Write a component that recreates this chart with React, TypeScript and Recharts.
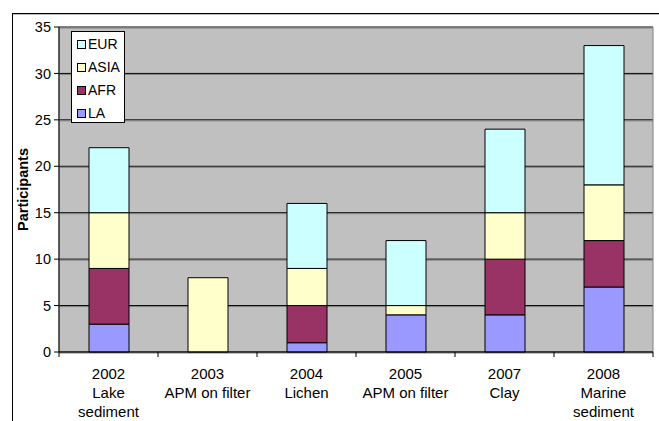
import React from 'react';
import { BarChart, Bar, XAxis, YAxis, CartesianGrid, ReferenceArea } from 'recharts';

// Participants per region, for each intercomparison round
const rounds = ['2002', '2003', '2004', '2005', '2007', '2008'];
const tickLines = [
  ['2002', 'Lake', 'sediment'],
  ['2003', 'APM on filter'],
  ['2004', 'Lichen'],
  ['2005', 'APM on filter'],
  ['2007', 'Clay'],
  ['2008', 'Marine', 'sediment'],
];
const la = [3, 0, 1, 4, 4, 7];
const afr = [6, 0, 4, 0, 6, 5];
const asia = [6, 8, 4, 1, 5, 6];
const eur = [7, 0, 7, 7, 9, 15];
const yTicks = [0, 5, 10, 15, 20, 25, 30, 35];

// stacking order, bottom to top
const series = [
  { key: 'LA', color: '#9999FF' },
  { key: 'AFR', color: '#993366' },
  { key: 'ASIA', color: '#FFFFCC' },
  { key: 'EUR', color: '#CCFFFF' },
];

const data = rounds.map((r, i) => ({
  round: r,
  LA: la[i],
  AFR: afr[i],
  ASIA: asia[i],
  EUR: eur[i],
}));

const FONT = "Arial, 'Liberation Sans', sans-serif";

const XTick = (props: any) => {
  const { x, y, payload, index } = props;
  const half = payload && payload.offset ? payload.offset : 49.5;
  const lines = tickLines[index] || [];
  const last = index === rounds.length - 1;
  return (
    <g>
      <line x1={x - half} y1={y} x2={x - half} y2={y + 5} stroke="#000" />
      {last && <line x1={x + half} y1={y} x2={x + half} y2={y + 5} stroke="#000" />}
      {lines.map((t: string, i: number) => (
        <text key={i} x={x} y={y + 27 + i * 19} textAnchor="middle" fontSize={15} fontFamily={FONT} fill="#000">
          {t}
        </text>
      ))}
    </g>
  );
};

const GridLine = (props: any) => {
  const { x1, x2, y1 } = props;
  return (
    <g>
      <line x1={x1} x2={x2} y1={y1} y2={y1} stroke="#000" strokeWidth={1} />
      <line x1={x1} x2={x2} y1={y1 + 1} y2={y1 + 1} stroke="#808080" strokeWidth={1} />
    </g>
  );
};

const LegendBox = () => (
  <div
    style={{
      position: 'absolute',
      left: 71,
      top: 31,
      width: 54,
      height: 92,
      background: '#fff',
      border: '1px solid #000',
      boxSizing: 'border-box',
      padding: '1px 0 0 5px',
      fontFamily: FONT,
      fontSize: 14,
      lineHeight: '15px',
    }}
  >
    {[...series].reverse().map((s) => (
      <div key={s.key} style={{ display: 'flex', alignItems: 'center', height: 23 }}>
        <span
          style={{
            display: 'inline-block',
            width: 7,
            height: 7,
            background: s.color,
            border: '1px solid #000',
            marginRight: 2,
          }}
        />
        <span>{s.key}</span>
      </div>
    ))}
  </div>
);

const YLabel = (props: any) => {
  const vb = props.viewBox || { x: 0, y: 27, width: 59, height: 325 };
  const cx = 28;
  const cy = vb.y + vb.height / 2;
  return (
    <text
      x={cx}
      y={cy}
      transform={`rotate(-90, ${cx}, ${cy})`}
      textAnchor="middle"
      fontSize={14.5}
      fontWeight="bold"
      fontFamily={FONT}
      fill="#000"
    >
      Participants
    </text>
  );
};

export default function App() {
  return (
    <div style={{ position: 'absolute', left: 0, top: 0, width: 659, height: 421, overflow: 'hidden', background: '#fff' }}>
      {/* outer chart frame */}
      <div
        style={{
          position: 'absolute',
          left: 12,
          top: 13,
          width: 700,
          height: 500,
          borderLeft: '1px solid #000',
          borderTop: '1px solid #000',
          boxShadow: 'inset 0 1px 0 #bbb',
        }}
      />
      <div style={{ position: 'absolute', left: 0, top: 0 }}>
        <BarChart
          width={659}
          height={421}
          data={data}
          margin={{ top: 27, right: 6, bottom: 0, left: 0 }}
          barSize={40}
        >
          <CartesianGrid vertical={false} fill="#C0C0C0" horizontal={(p: any) => <GridLine key={p.key} {...p} />} />
          <ReferenceArea y1={0} y2={35} fill="none" stroke="#808080" strokeWidth={1} />
          <XAxis
            dataKey="round"
            tick={<XTick />}
            tickLine={false}
            tickSize={0}
            tickMargin={0}
            height={69}
            axisLine={{ stroke: '#000' }}
            interval={0}
          />
          <YAxis
            domain={[0, 35]}
            ticks={yTicks}
            width={59}
            tickSize={5}
            tickMargin={3}
            tickLine={{ stroke: '#000' }}
            axisLine={{ stroke: '#000' }}
            tick={{ fontSize: 14.5, fontFamily: FONT, fill: '#000' }}
            label={{ content: <YLabel /> }}
            interval={0}
          />
          {series.map((s) => (
            <Bar
              key={s.key}
              dataKey={s.key}
              stackId="a"
              fill={s.color}
              stroke="#000"
              strokeWidth={1}
              isAnimationActive={false}
            />
          ))}
        </BarChart>
      </div>
      <LegendBox />
    </div>
  );
}
